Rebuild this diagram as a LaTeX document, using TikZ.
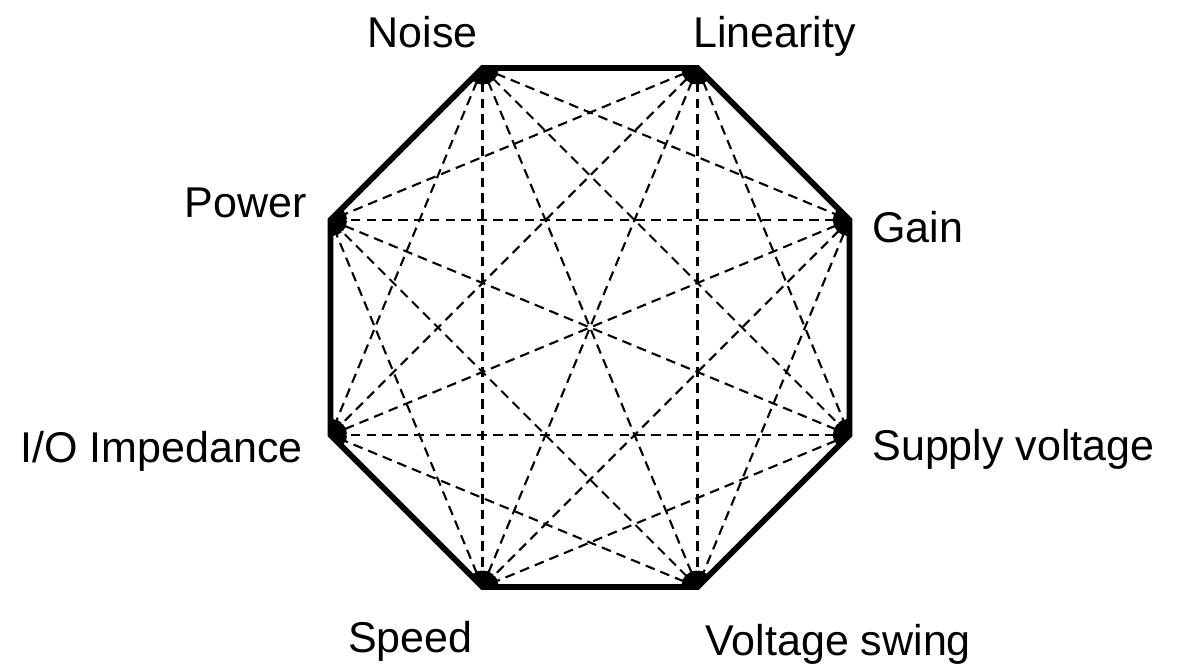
\documentclass[tikz,border=0pt]{standalone}
\usepackage{fontspec}
\setmainfont{Liberation Sans}
\usetikzlibrary{arrows.meta,calc}

\begin{document}
\begin{tikzpicture}[
    x=0.02cm, y=-0.02cm,
    lbl/.style={inner sep=0pt, font=\fontsize{24.5}{29}\selectfont},
    link/.style={<->, >={Latex[length=9pt,width=6.5pt]}, dashed, dash pattern=on 5.5pt off 3.5pt, line width=1.2pt},
    rim/.style={line width=3.3pt, line join=miter}
]
    \useasboundingbox (0,0) rectangle (1188,667);

    % Corners of the octagon
    \coordinate (noise)  at (482.5,68);
    \coordinate (lin)    at (697.5,68);
    \coordinate (gain)   at (849.5,220);
    \coordinate (supply) at (849.5,435);
    \coordinate (swing)  at (697.5,587);
    \coordinate (speed)  at (482.5,587);
    \coordinate (imp)    at (330.5,435);
    \coordinate (power)  at (330.5,220);

    % Dashed links between non-neighbouring corners
    \foreach \a/\b in {noise/gain, noise/supply, noise/swing, noise/speed, noise/imp,
                       lin/supply, lin/swing, lin/speed, lin/imp, lin/power,
                       gain/swing, gain/speed, gain/imp, gain/power,
                       supply/speed, supply/imp, supply/power,
                       swing/imp, swing/power,
                       speed/power}
        \draw[link] (\a) -- (\b);

    % Outline
    \draw[rim] (noise) -- (lin) -- (gain) -- (supply) -- (swing) -- (speed) -- (imp) -- (power) -- cycle;

    % Labels
    \node[lbl, anchor=base east] (noiselbl)  at ($(noise)+(-4.5,-21)$)  {Noise};
    \node[lbl, anchor=base west] (linlbl)    at ($(lin)+(-4.5,-21)$)    {Linearity};
    \node[lbl, anchor=base west] (gainlbl)   at ($(gain)+(22.5,22)$)    {Gain};
    \node[lbl, anchor=base west] (supplylbl) at ($(supply)+(22.5,25)$)  {Supply voltage};
    \node[lbl, anchor=base west] (swinglbl)  at ($(swing)+(7.5,68)$)    {Voltage swing};
    \node[lbl, anchor=base east] (speedlbl)  at ($(speed)+(-9.5,65)$)   {Speed};
    \node[lbl, anchor=base east] (implbl)    at ($(imp)+(-27.5,27)$)    {I/O Impedance};
    \node[lbl, anchor=base east] (powerlbl)  at ($(power)+(-23.5,-3)$)  {Power};

\end{tikzpicture}
\end{document}
